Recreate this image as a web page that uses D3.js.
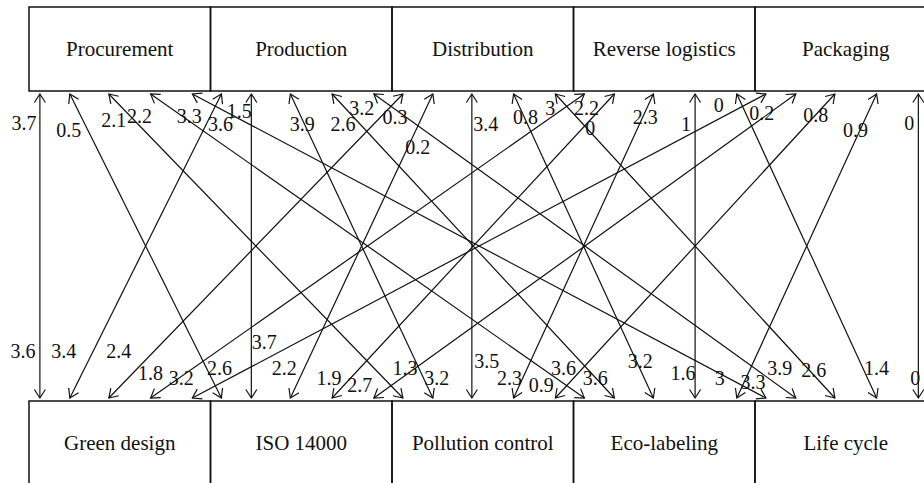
<!DOCTYPE html>
<html>
<head>
<meta charset="utf-8">
<script src="https://cdn.jsdelivr.net/npm/d3@7"></script>
<style>
  html, body { margin: 0; padding: 0; background: #fff; }
  svg { display: block; }
  text { font-family: "Liberation Serif", "DejaVu Serif", serif; fill: #111; }
</style>
</head>
<body>
<svg id="chart"></svg>
<script>
// top row -> bottom row, every pair is linked by a double arrow
let topNodes = ['Procurement', 'Production', 'Distribution', 'Reverse logistics', 'Packaging'];
let bottomNodes = ['Green design', 'ISO 14000', 'Pollution control', 'Eco-labeling', 'Life cycle'];

// value printed near the top end of each arrow (row = top node, col = bottom node)
let topValues = [
    [3.7, 0.5, 2.1, 2.2, 3.3],
    [3.6, 1.5, 3.9, 2.6, 3.2],
    [0.3, 0.2, 3.4, 0.8, 3],
    [2.2, 0, 2.3, 1, 0],
    [null, 0.2, 0.8, 0.9, 0]   // Packaging -> Green design has no label at the top
];

// value printed near the bottom end of each arrow (row = top node, col = bottom node)
let bottomValues = [
    [3.6, 2.6, 1.3, 3.6, 3.3],
    [3.4, 3.7, 3.2, 3.6, 3.9],
    [2.4, 2.2, 3.5, 3.2, 2.6],
    [1.8, 1.9, 2.3, 1.6, 1.4],
    [3.2, 2.7, 0.9, 3, 0]
];

let width = 924;
let height = 483;

// layout
let left = 29;
let boxW = 181.5;
let boxH = 84;
let topBoxY = 7;
let bottomBoxY = 401;
let tipTop = 94;
let tipBottom = 398;
// where the arrows leave a box, as share of the box width (slot k = k-th partner)
let slots = [0.06, 0.225, 0.44, 0.67, 0.9];

// label nudges from the arrow tip [dx, dy]
let topNudge = [
    [[-16, 29], [-1, 36], [5, 26], [-11, 22], [-3, 22]],
    [[-1, 30], [-12, 17], [12, 30], [11, 30], [-12, 14]],
    [[-8, 23], [-15, 53], [14, 30], [12, 23], [-5, 14]],
    [[2, 14], [-24, 34], [-8, 23], [-9, 30], [-18, 11]],
    [[0, 0], [-34, 19], [-19, 21], [-21, 36], [-9, 29]]
];
let bottomNudge = [
    [[-17, -47], [-2, -30], [2, -30], [-21, -30], [-13, -16]],
    [[-6, -47], [13, -56], [4, -20], [-19, -20], [-16, -30]],
    [[10, -47], [-6, -30], [15, -37], [-13, -37], [-21, -28]],
    [[0, -25], [-3, -20], [-4, -20], [-12, -25], [0, -30]],
    [[-11, -20], [-14, -13], [-14, -13], [-17, -20], [-3, -20]]
];

let svg = d3.select('#chart')
    .attr('width', width)
    .attr('height', height);

let xBox = d3.scaleBand()
    .domain(d3.range(5))
    .range([left, left + 5 * boxW])
    .padding(0);

let xSlot = d3.scaleLinear()
    .domain([0, 1])
    .range([0, xBox.bandwidth()]);

// arrow head
svg.append('defs').append('marker')
    .attr('id', 'head')
    .attr('viewBox', '-10 -7 12 14')
    .attr('refX', 0)
    .attr('refY', 0)
    .attr('markerWidth', 12)
    .attr('markerHeight', 14)
    .attr('markerUnits', 'userSpaceOnUse')
    .attr('orient', 'auto-start-reverse')
    .append('path')
    .attr('d', 'M-8.5,-5.5L0,0L-8.5,5.5')
    .attr('fill', 'none')
    .attr('stroke', '#111')
    .attr('stroke-width', 1.2);

// build the 25 links
let links = [];
topNodes.forEach((t, i) => {
    bottomNodes.forEach((b, j) => {
        links.push({
            i: i,
            j: j,
            x1: xBox(i) + xSlot(slots[j]),
            x2: xBox(j) + xSlot(slots[i]),
            top: topValues[i][j],
            bottom: bottomValues[i][j]
        });
    });
});

svg.append('g')
    .selectAll('line')
    .data(links)
    .enter()
    .append('line')
    .attr('x1', d => d.x1)
    .attr('y1', tipTop)
    .attr('x2', d => d.x2)
    .attr('y2', tipBottom)
    .attr('stroke', '#111')
    .attr('stroke-width', 1.2)
    .attr('marker-start', 'url(#head)')
    .attr('marker-end', 'url(#head)');

// boxes
let drawRow = (names, y) => {
    let g = svg.append('g');
    g.selectAll('rect')
        .data(names)
        .enter()
        .append('rect')
        .attr('x', (d, k) => xBox(k))
        .attr('y', y)
        .attr('width', xBox.bandwidth())
        .attr('height', boxH)
        .attr('fill', 'none')
        .attr('stroke', '#111')
        .attr('stroke-width', 1.5);
    g.selectAll('text')
        .data(names)
        .enter()
        .append('text')
        .attr('x', (d, k) => xBox(k) + xBox.bandwidth() / 2)
        .attr('y', y + boxH / 2)
        .attr('dy', '0.35em')
        .attr('text-anchor', 'middle')
        .attr('font-size', 21)
        .text(d => d);
};
drawRow(topNodes, topBoxY);
drawRow(bottomNodes, bottomBoxY);

// value labels
let fmt = v => String(v);

svg.append('g')
    .selectAll('text')
    .data(links.filter(d => d.top !== null))
    .enter()
    .append('text')
    .attr('x', d => d.x1 + topNudge[d.i][d.j][0])
    .attr('y', d => tipTop + topNudge[d.i][d.j][1])
    .attr('dy', '0.35em')
    .attr('text-anchor', 'middle')
    .attr('font-size', 20)
    .text(d => fmt(d.top));

svg.append('g')
    .selectAll('text')
    .data(links.filter(d => d.bottom !== null))
    .enter()
    .append('text')
    .attr('x', d => d.x2 + bottomNudge[d.i][d.j][0])
    .attr('y', d => tipBottom + bottomNudge[d.i][d.j][1])
    .attr('dy', '0.35em')
    .attr('text-anchor', 'middle')
    .attr('font-size', 20)
    .text(d => fmt(d.bottom));
</script>
</body>
</html>
